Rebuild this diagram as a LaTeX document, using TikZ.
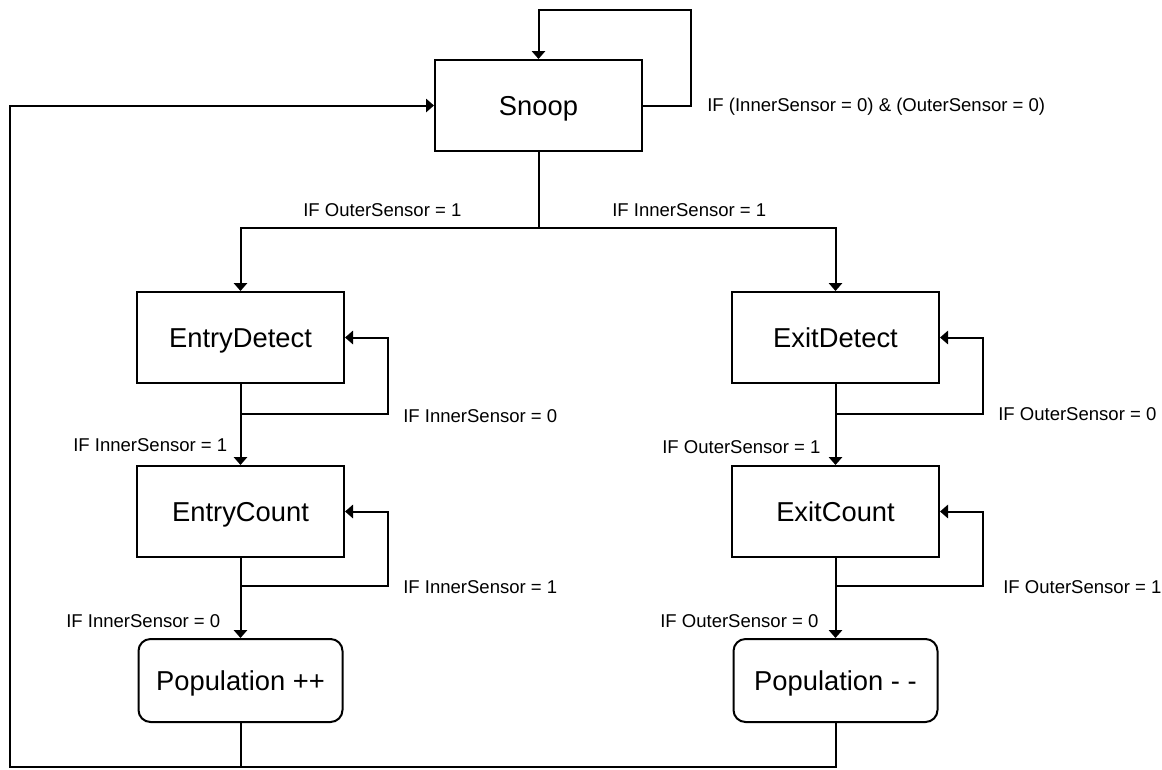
\documentclass[tikz,border=0pt]{standalone}
\usepackage{fontspec}
\setmainfont{Liberation Sans}
\usetikzlibrary{arrows.meta}
\begin{document}
\begin{tikzpicture}[x=0.75pt,y=-0.75pt,
  state/.style={draw, line width=1.5pt, minimum width=155.25pt, minimum height=68.25pt,
    inner sep=0pt, text height=14.7pt, text depth=0pt, font=\fontsize{20.5}{24}\selectfont},
  action/.style={state, rounded corners=9pt, minimum width=153pt, minimum height=62.25pt},
  wire/.style={line width=1.5pt},
  flow/.style={wire, -{Triangle[length=6pt,width=10pt]}},
  cond/.style={anchor=west, inner sep=0pt, text height=10pt, text depth=0pt,
    font=\fontsize{13.9}{16}\selectfont}]
\useasboundingbox (0,0) rectangle (1162,769);

% states
\node[state] (snoop) at (538.5,105.5) {Snoop};
\node[state] (entrydetect) at (240.5,337.5) {EntryDetect};
\node[state] (entrycount) at (240.5,511.5) {EntryCount};
\node[action] (popinc) at (240.5,680.5) {Population ++};
\node[state] (exitdetect) at (835.5,337.5) {ExitDetect};
\node[state] (exitcount) at (835.5,511.5) {ExitCount};
\node[action] (popdec) at (835.5,680.5) {Population - -};

% routing points
\coordinate (snoopself) at (691,10);
\coordinate (split) at (538.5,228);
\coordinate (edloop) at (388,414);
\coordinate (ecloop) at (388,586);
\coordinate (xdloop) at (983,414);
\coordinate (xcloop) at (983,586);
\coordinate (retcorner) at (10,767);

% Snoop
\draw[flow] (snoop.east) -| (snoopself) -| (snoop.north);
\draw[wire] (snoop.south) -- (split);
\draw[flow] (split) -| (entrydetect.north);
\draw[flow] (split) -| (exitdetect.north);

% entry branch
\draw[flow] (entrydetect.south) -- (entrycount.north);
\draw[flow] (entrydetect.south |- edloop) -- (edloop) |- (entrydetect.east);
\draw[flow] (entrycount.south) -- (popinc.north);
\draw[flow] (entrycount.south |- ecloop) -- (ecloop) |- (entrycount.east);

% exit branch
\draw[flow] (exitdetect.south) -- (exitcount.north);
\draw[flow] (exitdetect.south |- xdloop) -- (xdloop) |- (exitdetect.east);
\draw[flow] (exitcount.south) -- (popdec.north);
\draw[flow] (exitcount.south |- xcloop) -- (xcloop) |- (exitcount.east);

% return to Snoop
\draw[flow] (popinc.south) |- (retcorner) |- (snoop.west);
\draw[wire] (popdec.south) |- (popinc.south |- retcorner);

% conditions
\node[cond] (c1) at (707,105) {IF (InnerSensor = 0) \& (OuterSensor = 0)};
\node[cond] (c2) at (303,210) {IF OuterSensor = 1};
\node[cond] (c3) at (612,210) {IF InnerSensor = 1};
\node[cond] (c4) at (403,416) {IF InnerSensor = 0};
\node[cond] (c5) at (73,445) {IF InnerSensor = 1};
\node[cond] (c6) at (403,587) {IF InnerSensor = 1};
\node[cond] (c7) at (66,621) {IF InnerSensor = 0};
\node[cond] (c8) at (998,414) {IF OuterSensor = 0};
\node[cond] (c9) at (662,447) {IF OuterSensor = 1};
\node[cond] (c10) at (1003,587) {IF OuterSensor = 1};
\node[cond] (c11) at (660,621) {IF OuterSensor = 0};
\end{tikzpicture}
\end{document}
